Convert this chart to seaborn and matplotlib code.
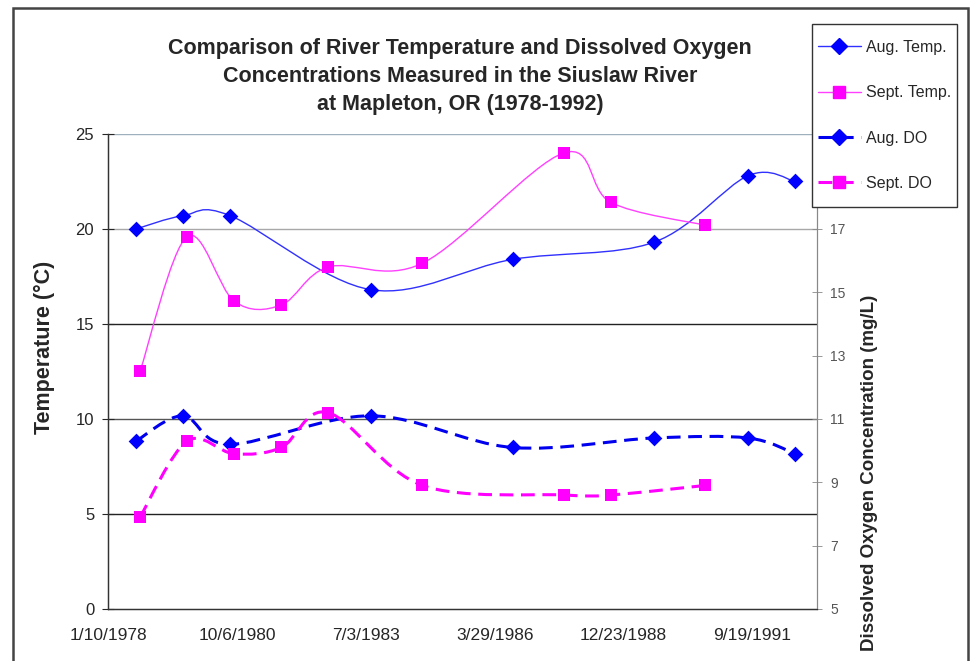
import numpy as np
import pandas as pd
import matplotlib
matplotlib.use('Agg')
import matplotlib.pyplot as plt
import matplotlib.dates as mdates
from matplotlib.path import Path
from matplotlib.patches import PathPatch, Rectangle
from matplotlib.lines import Line2D
import seaborn as sns

# Siuslaw River at Mapleton, OR: summer readings
aug_dates = ['1978-08-15', '1979-08-15', '1980-08-15', '1983-08-15',
             '1986-08-15', '1989-08-15', '1991-08-15', '1992-08-15']
sept_dates = ['1978-09-15', '1979-09-15', '1980-09-15', '1981-09-15', '1982-09-15',
              '1984-09-15', '1987-09-15', '1988-09-15', '1990-09-15']

aug_temp = [20.0, 20.7, 20.7, 16.8, 18.4, 19.3, 22.8, 22.5]
sept_temp = [12.5, 19.6, 16.2, 16.0, 18.0, 18.2, 24.0, 21.4, 20.2]
aug_do = [10.3, 11.1, 10.2, 11.1, 10.1, 10.4, 10.4, 9.9]
sept_do = [7.9, 10.3, 9.9, 10.1, 11.2, 8.9, 8.6, 8.6, 8.9]

BLUE = '#0000ff'
MAGENTA = '#ff00ff'


# Excel-style smoothed line: cubic Bezier through the data points
def smooth_path(xs, ys):
    pts = np.column_stack([xs, ys])
    n = len(pts)
    verts = [pts[0]]
    codes = [Path.MOVETO]
    for i in range(n - 1):
        p0 = pts[max(i - 1, 0)]
        p1 = pts[i]
        p2 = pts[i + 1]
        p3 = pts[min(i + 2, n - 1)]
        verts += [p1 + (p2 - p0) / 6, p2 - (p3 - p1) / 6, p2]
        codes += [Path.CURVE4] * 3
    return Path(verts, codes)


def draw_series(ax, dates, values, color, marker, ms, lw, ls, lcolor):
    x = mdates.date2num(pd.to_datetime(dates))
    ax.add_patch(PathPatch(smooth_path(x, values), fill=False, edgecolor=lcolor,
                           lw=lw, linestyle=ls, zorder=3, capstyle='butt'))
    sns.scatterplot(x=x, y=values, ax=ax, marker=marker, s=ms ** 2, color=color,
                    edgecolor=color, linewidth=0, zorder=4, legend=False)


sns.set_style('white')
plt.rcParams['font.family'] = ['Liberation Sans', 'DejaVu Sans']

fig = plt.figure(figsize=(9.75, 6.61), dpi=100)
ax = fig.add_axes([0.1108, 0.0787, 0.727, 0.7186])
ax2 = ax.twinx()

draw_series(ax, aug_dates, aug_temp, BLUE, 'D', 8, 1.0, '-', '#3030ff')
draw_series(ax, sept_dates, sept_temp, MAGENTA, 's', 8, 1.0, '-', '#ff40ff')
draw_series(ax2, aug_dates, aug_do, BLUE, 'D', 8, 2.2, (0, (4.5, 2.5)), '#0000ee')
draw_series(ax2, sept_dates, sept_do, MAGENTA, 's', 8, 2.2, (0, (4.5, 2.5)), MAGENTA)

# date axis, major unit 1000 days from 1/10/1978
tick_dates = pd.date_range('1978-01-10', periods=6, freq='1000D')
start = mdates.date2num(tick_dates[0])
ax.set_xlim(start, start + 5500)
ax.set_xticks(mdates.date2num(tick_dates))
ax.set_xticklabels([f'{d.month}/{d.day}/{d.year}' for d in tick_dates], fontsize=12.5)

ax.set_ylim(0, 25)
ax.set_yticks(range(0, 26, 5))
ax.tick_params(axis='y', labelsize=12, direction='inout', length=8, width=0.8, pad=6)
ax.tick_params(axis='x', direction='inout', length=8, width=0.8, pad=10)
ax2.set_ylim(5, 20)
ax2.set_yticks(range(5, 20, 2))
ax2.tick_params(axis='y', labelsize=10, labelcolor='#555555', direction='inout',
                length=7, width=0.6, color='#888888', pad=6)

ax.grid(axis='y', lw=1.0)
grid_colors = ['none', '#222222', '#555555', '#222222', '#a8a8a8', '#9fb0bd']
for line, c in zip(ax.get_ygridlines(), grid_colors):
    line.set_color(c)
ax.set_axisbelow(True)

for a in (ax, ax2):
    a.spines['top'].set_visible(False)
    a.spines['left'].set_color('#333333')
    a.spines['bottom'].set_color('#333333')
    a.spines['right'].set_color('#888888')
    a.spines['left'].set_linewidth(0.9)
    a.spines['bottom'].set_linewidth(0.9)

fig.text(0.472, 0.884, 'Comparison of River Temperature and Dissolved Oxygen\n'
         'Concentrations Measured in the Siuslaw River\nat Mapleton, OR (1978-1992)',
         ha='center', va='center', fontsize=15.5, fontweight='bold', linespacing=1.42)
fig.text(0.046, 0.475, 'Temperature (\u00b0C)', rotation=90, ha='center', va='center',
         fontsize=15.5, fontweight='bold')
fig.text(0.892, 0.284, 'Dissolved Oxygen Concentration (mg/L)', rotation=90,
         ha='center', va='center', fontsize=13.5, fontweight='bold')

# legend box drawn on its own so the padding can be taller than wide
box_l, box_r, box_t, box_b = 812 / 975, 957 / 975, 1 - 24 / 661, 1 - 207 / 661
fig.patches.append(Rectangle((box_l, box_b), box_r - box_l, box_t - box_b,
                             transform=fig.transFigure, facecolor='white',
                             edgecolor='#333333', lw=1.0, zorder=4))

handles = [
    Line2D([], [], color='#3030ff', lw=1.0, marker='D', ms=8, mfc=BLUE, mec=BLUE),
    Line2D([], [], color='#ff40ff', lw=1.0, marker='s', ms=8, mfc=MAGENTA, mec=MAGENTA),
    Line2D([], [], color='#0000ee', lw=2.2, ls=(0, (4.5, 2.5)), marker='D', ms=8,
           mfc=BLUE, mec=BLUE),
    Line2D([], [], color=MAGENTA, lw=2.2, ls=(0, (4.5, 2.5)), marker='s', ms=8,
           mfc=MAGENTA, mec=MAGENTA),
]
leg = fig.legend(handles, ['Aug. Temp.', 'Sept. Temp.', 'Aug. DO', 'Sept. DO'],
                 loc='center', bbox_to_anchor=((box_l + box_r) / 2, (box_t + box_b) / 2),
                 borderaxespad=0, borderpad=0, fontsize=11.5, labelspacing=1.9,
                 handlelength=2.7, handletextpad=0.3, frameon=False)
leg.set_zorder(5)

fig.patches.append(Rectangle((13 / 975, -0.02), 955 / 975, 1.02 - 8 / 661,
                             transform=fig.transFigure, fill=False,
                             edgecolor='#444444', lw=1.8, zorder=0))

fig.savefig('out.png', dpi=100, facecolor='white')
